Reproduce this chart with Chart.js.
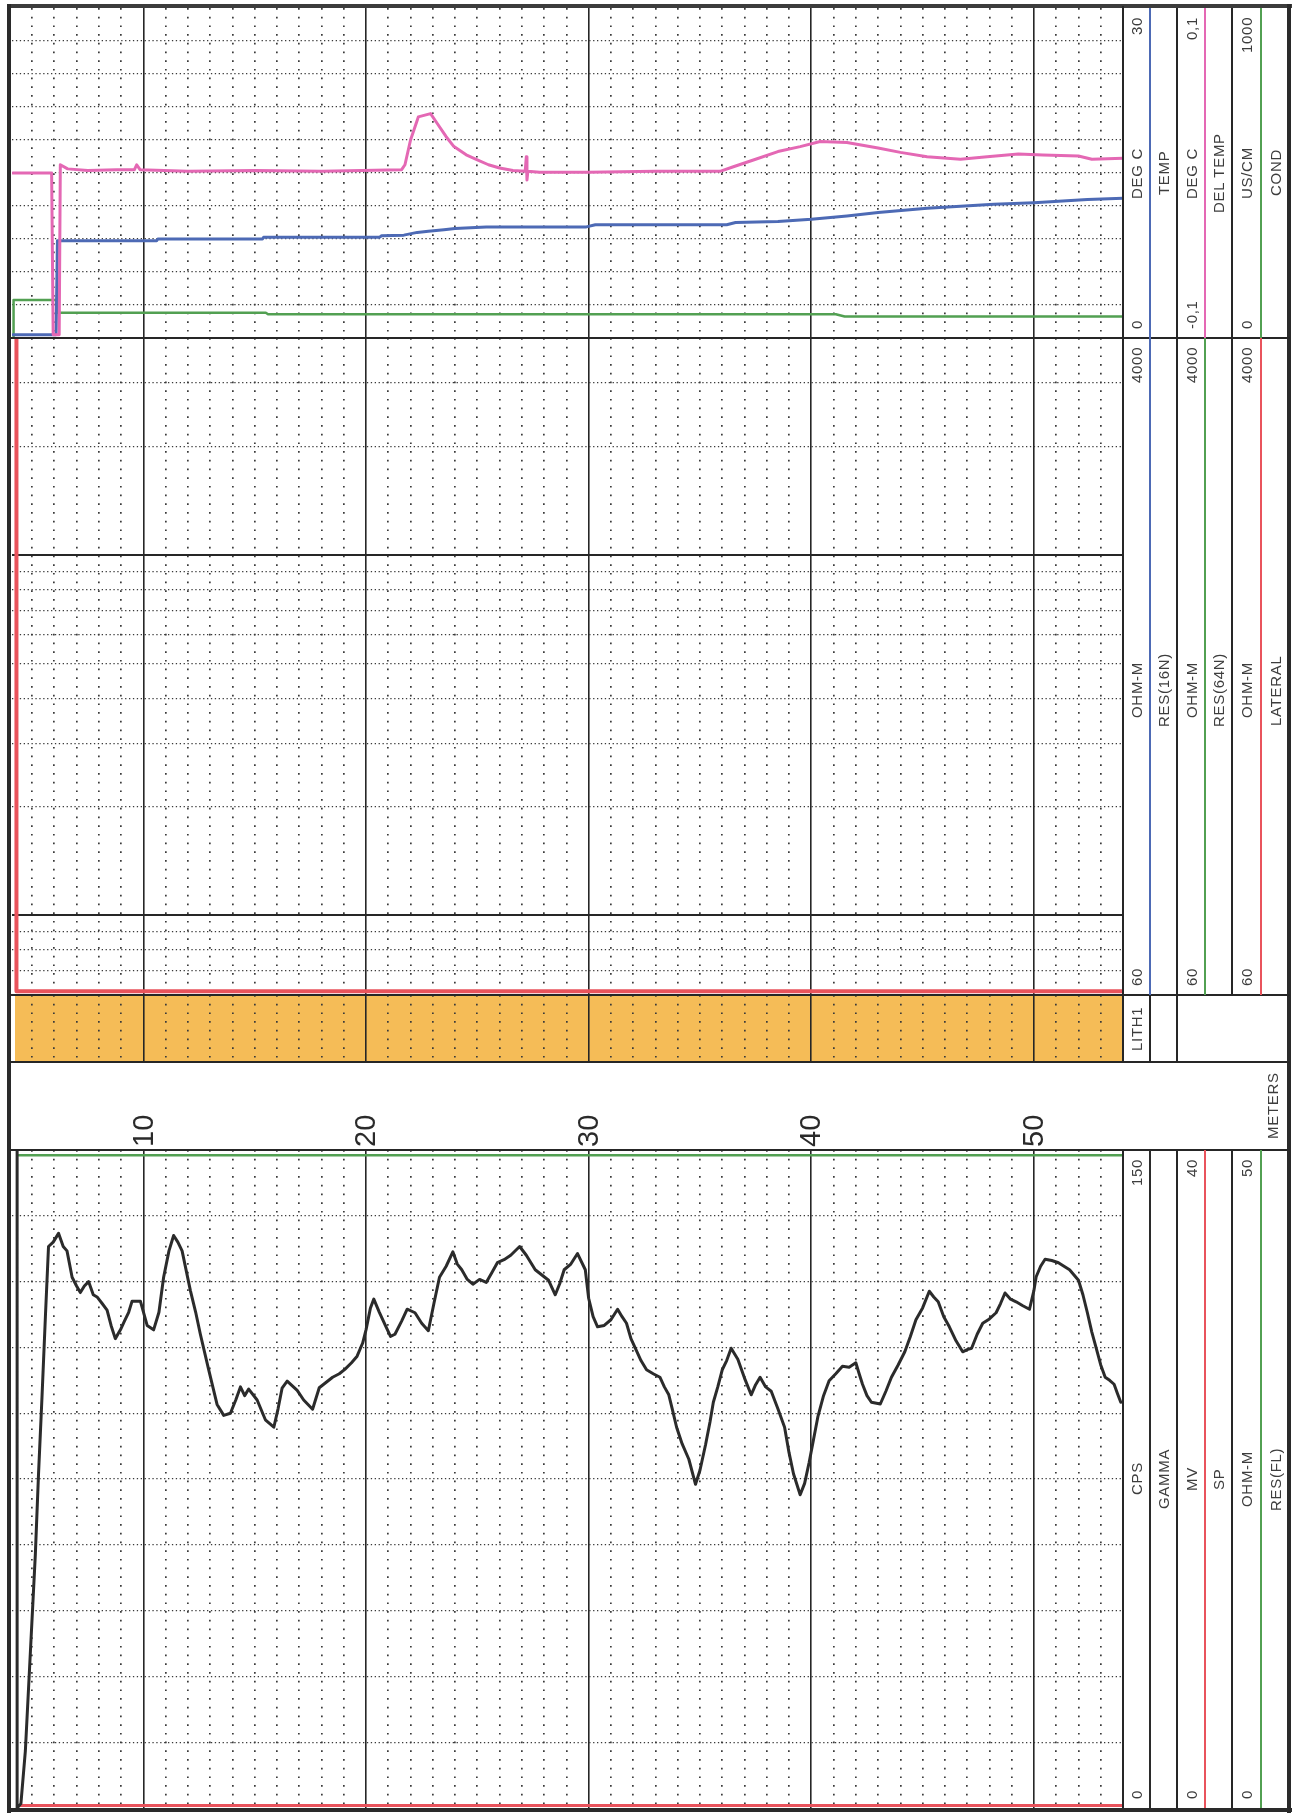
<!DOCTYPE html>
<html>
<head>
<meta charset="utf-8">
<title>Borehole log</title>
<script src="https://cdn.jsdelivr.net/npm/chart.js@4.4.0/dist/chart.umd.min.js"></script>
<style>
  html, body { margin: 0; padding: 0; background: #fff; }
  #page { position: relative; width: 1298px; height: 1817px; overflow: hidden; background: #fff; }
  #page canvas { position: absolute; z-index: 1; }
</style>
</head>
<body>
<div id="page">
  <canvas id="cTemp"></canvas>
  <canvas id="cRes"></canvas>
  <canvas id="cLith"></canvas>
  <canvas id="cGamma"></canvas>
</div>
<script>
// ---- depth axis (metres) ----
const DEPTH_MIN = 4.1;
const DEPTH_MAX = 54.0;
const depthLabels = [10, 20, 30, 40, 50];

// ---- value ranges of each curve ----
const tempRange = [0, 30];
const delTempRange = [-0.1, 0.1];
const condRange = [0, 1000];
const resRange = [60, 4000];
const gammaRange = [0, 150];
const spRange = [0, 40];
const resFlRange = [0, 50];

// ---- horizontal grid values per track ----
const tempGrid = [3, 6, 9, 12, 15, 18, 21, 24, 27];
const resDecades = [100, 1000];
const resMinor = [70, 80, 90, 200, 300, 400, 500, 600, 700, 800, 900, 2000, 3000];
const gammaGrid = [15, 30, 45, 60, 75, 90, 105, 120, 135];

// ---- temperature track ----
const tempDepth = [4.15, 6.08, 6.14, 10.6, 10.65, 15.35, 15.4, 20.6, 20.7, 21.7, 22.3, 22.8, 23.5, 24.0, 25.4, 29.9, 30.3, 36.2, 36.6, 38.5, 40.0, 41.6, 43.0, 45.2, 48.2, 50.0, 52.4, 54.0];
const tempDegC  = [0.3, 0.3, 8.85, 8.85, 9.0, 9.0, 9.15, 9.15, 9.3, 9.35, 9.6, 9.7, 9.85, 9.95, 10.1, 10.1, 10.3, 10.3, 10.5, 10.6, 10.8, 11.1, 11.4, 11.8, 12.15, 12.3, 12.6, 12.7];

const delTempDepth = [4.15, 5.88, 5.95, 6.22, 6.27, 6.6, 7.5, 8.8, 9.6, 9.7, 9.85, 12.0, 15.0, 18.0, 21.6, 21.75, 22.0, 22.35, 22.9, 23.2, 23.6, 23.95, 24.5, 25.0, 25.5, 26.0, 26.6, 27.15, 27.2, 27.23, 27.27, 27.8, 30.0, 33.0, 35.9, 36.5, 37.4, 38.5, 39.5, 40.4, 41.6, 43.0, 44.0, 45.2, 46.7, 47.9, 49.3, 50.4, 52.0, 52.6, 54.0];
const delTempDegC  = [0.0, 0.0, -0.098, -0.098, 0.005, 0.0025, 0.0015, 0.002, 0.002, 0.005, 0.002, 0.001, 0.0015, 0.001, 0.002, 0.005, 0.02, 0.034, 0.036, 0.030, 0.022, 0.016, 0.011, 0.008, 0.005, 0.003, 0.0015, 0.001, 0.0099, -0.0042, 0.001, 0.0005, 0.0005, 0.001, 0.001, 0.0038, 0.0079, 0.013, 0.016, 0.0191, 0.0185, 0.0152, 0.0125, 0.0099, 0.0083, 0.0099, 0.0115, 0.0109, 0.0103, 0.0083, 0.0089];

const condDepth = [4.15, 4.17, 6.1, 6.14, 15.5, 15.6, 41.1, 41.5, 54.0];
const condUsCm  = [0, 115, 115, 76.7, 76.7, 72, 72, 65, 65];

// ---- resistivity track ----
const lateralDepth = [4.3, 4.3, 54.0];
const lateralOhmM  = [4000, 61.5, 61.5];

// ---- lithology ----
const lithNames = ['LITH1'];
const lithTop = [4.25];
const lithBase = [54.0];

// ---- gamma track ----
const gammaDepth = [4.33, 4.33, 4.5, 4.7, 4.92, 5.15, 5.29, 5.45, 5.6, 5.74, 5.95, 6.19, 6.4, 6.57, 6.8, 7.0, 7.17, 7.35, 7.54, 7.75, 7.92, 8.15, 8.37, 8.55, 8.74, 8.97, 9.15, 9.34, 9.49, 9.87, 10.17, 10.46, 10.7, 10.91, 11.15, 11.36, 11.55, 11.74, 12.11, 12.35, 12.56, 12.93, 13.31, 13.61, 13.91, 14.15, 14.36, 14.55, 14.73, 15.11, 15.48, 15.86, 16.05, 16.23, 16.46, 16.91, 17.2, 17.6, 17.9, 18.2, 18.5, 18.8, 19.05, 19.35, 19.6, 19.85, 20.0, 20.2, 20.35, 20.6, 20.9, 21.1, 21.3, 21.6, 21.85, 22.2, 22.5, 22.8, 23.05, 23.3, 23.6, 23.9, 24.1, 24.3, 24.55, 24.8, 25.1, 25.4, 25.65, 25.9, 26.2, 26.5, 26.9, 27.2, 27.6, 27.9, 28.2, 28.5, 28.7, 28.9, 29.2, 29.5, 29.85, 30.0, 30.2, 30.4, 30.7, 31.0, 31.3, 31.5, 31.7, 31.9, 32.1, 32.35, 32.6, 32.9, 33.2, 33.4, 33.6, 33.8, 33.95, 34.2, 34.5, 34.8, 35.0, 35.25, 35.45, 35.6, 35.8, 36.0, 36.2, 36.4, 36.7, 37.0, 37.3, 37.5, 37.7, 37.95, 38.2, 38.5, 38.8, 39.0, 39.2, 39.5, 39.7, 39.9, 40.1, 40.3, 40.55, 40.8, 41.1, 41.4, 41.7, 42.0, 42.15, 42.3, 42.5, 42.7, 43.1, 43.35, 43.6, 43.9, 44.2, 44.45, 44.7, 45.0, 45.3, 45.5, 45.7, 45.95, 46.2, 46.5, 46.8, 47.0, 47.2, 47.45, 47.7, 48.0, 48.3, 48.5, 48.7, 48.95, 49.2, 49.5, 49.8, 50.0, 50.1, 50.3, 50.5, 50.8, 51.1, 51.35, 51.6, 51.8, 52.0, 52.2, 52.4, 52.6, 52.8, 53.0, 53.2, 53.4, 53.6, 53.75, 53.9];
const gammaCps   = [150, 0, 1, 13, 35, 58, 76, 94, 112, 128, 129, 131, 128, 127, 121, 119, 117.5, 119, 120, 117, 116.5, 115, 113.5, 110, 107, 109, 111, 113, 115.5, 115.5, 110, 109, 113, 121, 127, 130.5, 129, 127, 118, 113, 108, 100, 92, 89.5, 90, 93, 96, 94, 95.5, 93, 88.5, 86.8, 91, 95.7, 97.3, 95.2, 93, 90.9, 95.8, 97, 98.2, 99, 100, 101.5, 103, 106, 109, 114, 116, 113, 109.7, 107.5, 108, 111, 113.7, 112.9, 110.5, 108.8, 115, 121, 123.5, 126.8, 124, 122.7, 120.5, 119.4, 120.5, 119.8, 122, 124.3, 125, 126, 128, 126, 122.7, 121.5, 120.3, 117, 119.5, 122.7, 124, 126.4, 122.7, 116.2, 112, 109.7, 110, 111.3, 113.7, 112, 110.5, 107, 104.8, 102, 99.9, 99, 98.2, 96, 94.2, 90, 86.8, 83, 79.5, 73.8, 77, 82.8, 88, 92.5, 96, 99.9, 102, 104.8, 102.3, 98, 94.2, 96.5, 98.2, 96, 95, 91, 86.8, 81, 76.2, 71.4, 74, 78.7, 84, 89.3, 94, 97.4, 99, 100.7, 100.5, 101.5, 99, 96.6, 94, 92.5, 92.1, 95, 98.2, 101, 104, 107.5, 111.3, 114, 117.8, 116.5, 115.4, 112, 109.7, 106.5, 104, 104.5, 104.8, 108, 110.5, 111.5, 112.9, 115, 117.4, 116, 115.4, 114.5, 113.7, 118, 121.1, 123.5, 125.1, 124.8, 124.3, 123.5, 122.7, 121.5, 120.3, 117, 112.9, 108.5, 104.8, 101, 98.2, 97.5, 96.6, 94.5, 92.5];

const spDepth = [4.4, 54.0];
const spMv    = [0.15, 0.15];
const resFlDepth = [4.4, 54.0];
const resFlOhmM  = [49.6, 49.6];

// ---- page geometry ----
const FONT = '"Liberation Sans", Arial, Helvetica, sans-serif';
const PLOT_X0 = 12, PLOT_X1 = 1123;
const TRACK = { temp: [8, 338], res: [338, 995], lith: [995, 1062], band: [1062, 1150], gamma: [1150, 1808] };
const LABEL_BAND = TRACK.band[1] - TRACK.band[0];
const INK = '#262626';
const DOT = '#3a3a3a';
const C_BLUE = '#4d6ab5', C_MAG = '#e468b4', C_GREEN = '#52a052', C_RED = '#e9535c', C_ORANGE = '#f5bc57', C_BLACK = '#2b2b2b';

const minorDepths = [];
for (let d = Math.ceil(DEPTH_MIN); d <= Math.floor(DEPTH_MAX); d++) {
  if (d % 10 !== 0) minorDepths.push(d);
}

function xScales(withLabels, gridOnTop) {
  const z = gridOnTop ? 1 : -1;
  return {
    xMajor: {
      axis: 'x', type: 'linear', position: withLabels ? 'top' : 'bottom',
      min: DEPTH_MIN, max: DEPTH_MAX,
      afterBuildTicks: s => { s.ticks = depthLabels.map(v => ({ value: v })); },
      grid: { color: INK, lineWidth: 1.6, drawTicks: false, z },
      border: { display: false },
      ticks: withLabels
        ? { display: true, minRotation: 90, maxRotation: 90, autoSkip: false, padding: 3, labelOffset: 36,
            color: '#2a2a2a', font: { family: FONT, size: 29 } }
        : { display: false },
      afterFit: s => { s.height = withLabels ? LABEL_BAND : 0; }
    },
    xMinor: {
      axis: 'x', type: 'linear', position: 'bottom',
      min: DEPTH_MIN, max: DEPTH_MAX,
      afterBuildTicks: s => { s.ticks = minorDepths.map(v => ({ value: v })); },
      grid: { color: DOT, lineWidth: 1.7, drawTicks: false, z },
      border: { display: false, dash: [1.7, 7] },
      ticks: { display: false },
      afterFit: s => { s.height = 0; }
    }
  };
}

function gridAxis(type, range, ticks, dash, width, color) {
  return {
    axis: 'y', type, position: 'left', min: range[0], max: range[1],
    afterBuildTicks: s => { s.ticks = ticks.map(v => ({ value: v })); },
    grid: { color, lineWidth: width, drawTicks: false },
    border: { display: false, dash },
    ticks: { display: false },
    afterFit: s => { s.width = 0; }
  };
}

function hiddenAxis(type, range) {
  return { axis: 'y', type, min: range[0], max: range[1], display: false };
}

function series(depths, values, color, yAxisID, width) {
  return {
    data: depths.map((d, i) => ({ x: d, y: values[i] })),
    borderColor: color, borderWidth: width, pointRadius: 0, fill: false,
    tension: 0, xAxisID: 'xMajor', yAxisID, borderJoinStyle: 'round', borderCapStyle: 'round'
  };
}

function baseOptions(scales, extra) {
  return Object.assign({
    responsive: false, animation: false, devicePixelRatio: 1, events: [],
    layout: { padding: 0 },
    plugins: { legend: { display: false }, tooltip: { enabled: false } },
    scales
  }, extra || {});
}

function makeChart(id, box, config) {
  const cv = document.getElementById(id);
  cv.width = PLOT_X1 - PLOT_X0;
  cv.height = box[1] - box[0];
  cv.style.left = PLOT_X0 + 'px';
  cv.style.top = box[0] + 'px';
  return new Chart(cv, config);
}

// temperature / delta temperature / conductivity
makeChart('cTemp', TRACK.temp, {
  type: 'line',
  data: { datasets: [
    series(delTempDepth, delTempDegC, C_MAG, 'yDel', 3),
    series(tempDepth, tempDegC, C_BLUE, 'yTemp', 3),
    series(condDepth, condUsCm, C_GREEN, 'yCond', 2.5)
  ] },
  options: baseOptions(Object.assign(xScales(false, false), {
    yTemp: gridAxis('linear', tempRange, tempGrid, [1.3, 2.6], 1.3, DOT),
    yDel: hiddenAxis('linear', delTempRange),
    yCond: hiddenAxis('linear', condRange)
  }))
});

// resistivity (log scale)
makeChart('cRes', TRACK.res, {
  type: 'line',
  data: { datasets: [ series(lateralDepth, lateralOhmM, C_RED, 'yRes', 4) ] },
  options: baseOptions(Object.assign(xScales(false, false), {
    yRes: gridAxis('logarithmic', resRange, resDecades, [], 2, INK),
    yResMinor: gridAxis('logarithmic', resRange, resMinor, [1.3, 2.6], 1.3, DOT)
  }))
});

// lithology column
makeChart('cLith', TRACK.lith, {
  type: 'bar',
  data: { labels: lithNames, datasets: [{
    data: lithNames.map((n, i) => [lithTop[i], lithBase[i]]),
    backgroundColor: C_ORANGE, borderWidth: 0, barPercentage: 1, categoryPercentage: 1,
    xAxisID: 'xMajor', yAxisID: 'yLith'
  }] },
  options: baseOptions(Object.assign(xScales(false, true), {
    yLith: { axis: 'y', type: 'category', display: false }
  }), { indexAxis: 'y' })
});

// gamma / SP / fluid resistivity, with the depth labels above
makeChart('cGamma', [TRACK.band[0], TRACK.gamma[1]], {
  type: 'line',
  data: { datasets: [
    series(gammaDepth, gammaCps, C_BLACK, 'yGamma', 3),
    series(spDepth, spMv, C_RED, 'ySP', 3),
    series(resFlDepth, resFlOhmM, C_GREEN, 'yFL', 2.5)
  ] },
  options: baseOptions(Object.assign(xScales(true, false), {
    yGamma: gridAxis('linear', gammaRange, gammaGrid, [1.3, 2.6], 1.3, DOT),
    ySP: hiddenAxis('linear', spRange),
    yFL: hiddenAxis('linear', resFlRange)
  }))
});

// ---- frame, header cells and legend text ----
const page = document.getElementById('page');
function el(css, text) {
  const d = document.createElement('div');
  d.style.cssText = css;
  if (text != null) d.textContent = text;
  page.appendChild(d);
  return d;
}
function rule(x, y, w, h, color) {
  el(`position:absolute;left:${x}px;top:${y}px;width:${w}px;height:${h}px;background:${color};z-index:3`);
}
function vcell(x0, x1, y0, y1, texts, justify, size, color) {
  const d = el(`position:absolute;left:${x0}px;top:${y0}px;width:${x1 - x0}px;height:${y1 - y0}px;` +
    `writing-mode:vertical-rl;transform:rotate(180deg);display:flex;justify-content:${justify};` +
    `align-items:center;box-sizing:border-box;padding:9px 0;font-family:${FONT};font-size:${size}px;` +
    `letter-spacing:0.7px;color:${color};white-space:nowrap;z-index:4;line-height:1`);
  texts.forEach(t => { const s = document.createElement('span'); s.textContent = t; d.appendChild(s); });
}
const fmt = v => String(v).replace('.', ',');

// outer frame
rule(7, 4, 1285, 4, '#3c3c3c');
rule(7, 4, 4, 1809, '#2a2a2a');
rule(1287, 4, 4, 1809, '#2a2a2a');
rule(7, 1808, 1285, 4, '#2a2a2a');

// track boundaries
[TRACK.res[0], TRACK.lith[0], TRACK.band[0], TRACK.gamma[0]].forEach(y => rule(10, y - 1, 1280, 2, INK));
rule(PLOT_X1 - 1, 6, 2, TRACK.band[0] - 6, INK);
rule(PLOT_X1 - 1, TRACK.gamma[0], 2, TRACK.gamma[1] - TRACK.gamma[0], INK);

// header columns: [left separator, curve line, right separator]
const LEG = [[1123, 1150, 1177], [1177, 1205, 1232], [1232, 1261, 1289]];
const LEG_TEXT = '#3d3d3d';
const LEG_SIZE = 15;

const headers = [
  { box: TRACK.temp, shift: 0, curves: [
    { name: 'TEMP', unit: 'DEG C', range: tempRange, color: C_BLUE },
    { name: 'DEL TEMP', unit: 'DEG C', range: delTempRange, color: C_MAG },
    { name: 'COND', unit: 'US/CM', range: condRange, color: C_GREEN } ] },
  { box: TRACK.res, shift: 24, curves: [
    { name: 'RES(16N)', unit: 'OHM-M', range: resRange, color: C_BLUE },
    { name: 'RES(64N)', unit: 'OHM-M', range: resRange, color: C_GREEN },
    { name: 'LATERAL', unit: 'OHM-M', range: resRange, color: C_RED } ] },
  { box: TRACK.gamma, shift: 0, curves: [
    { name: 'GAMMA', unit: 'CPS', range: gammaRange, color: C_BLACK },
    { name: 'SP', unit: 'MV', range: spRange, color: C_RED },
    { name: 'RES(FL)', unit: 'OHM-M', range: resFlRange, color: C_GREEN } ] }
];

headers.forEach(h => {
  const [y0, y1] = h.box;
  const c0 = y0 + 2 * h.shift;
  h.curves.forEach((c, i) => {
    const [xa, xl, xb] = LEG[i];
    if (i > 0) rule(xa - 1, y0, 2, y1 - y0, INK);
    rule(xl - 1, y0, 2, y1 - y0, c.color);
    vcell(xa + 1, xl - 1, y0, y1, [fmt(c.range[0]), fmt(c.range[1])], 'space-between', LEG_SIZE, LEG_TEXT);
    vcell(xa + 1, xl - 1, c0, y1, [c.unit], 'center', LEG_SIZE, LEG_TEXT);
    vcell(xl + 1, xb - 1, c0, y1, [c.name], 'center', LEG_SIZE, LEG_TEXT);
  });
});

// lithology header
rule(LEG[0][1] - 1, TRACK.lith[0], 2, TRACK.lith[1] - TRACK.lith[0], INK);
rule(LEG[1][0] - 1, TRACK.lith[0], 2, TRACK.lith[1] - TRACK.lith[0], INK);
vcell(LEG[0][0] + 1, LEG[0][1] - 1, TRACK.lith[0], TRACK.lith[1], lithNames, 'center', LEG_SIZE, LEG_TEXT);

// depth unit
vcell(1260, 1286, TRACK.band[0], TRACK.band[1], ['METERS'], 'center', LEG_SIZE, LEG_TEXT);
</script>
</body>
</html>
